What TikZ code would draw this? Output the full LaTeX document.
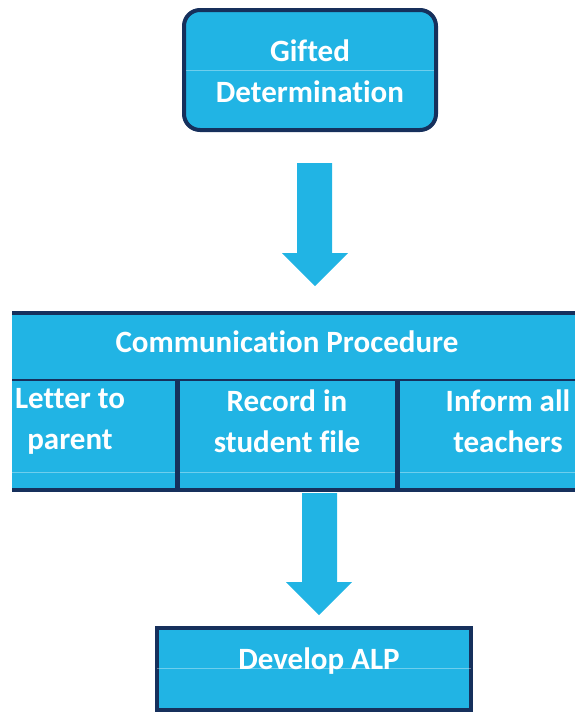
\documentclass[tikz,border=0pt]{standalone}
\usepackage{fontspec}
\setmainfont[Ligatures={NoCommon}]{Carlito}
\definecolor{fillblue}{RGB}{33,180,228}
\definecolor{navy}{RGB}{22,48,92}
\tikzset{
  lbl/.style={text=white, font=\fontsize{31}{41}\selectfont\bfseries, align=center, inner sep=0pt},
  box/.style={draw=navy, line width=4pt, fill=fillblue, inner sep=0pt},
  blockarrow/.style={fill=fillblue, draw=none},
  gloss/.style={draw=white, opacity=0.35, line width=1pt},
  rule/.style={draw=navy, line width=4pt},
  divider/.style={draw=navy, line width=5pt}
}
\begin{document}
\begin{tikzpicture}[x=1pt,y=-1pt]
\useasboundingbox (0,0) rectangle (575,715);

% top box
\node[box, rounded corners=16pt, minimum width=252pt, minimum height=120pt] (giftedbox) at (310,70) {};
\draw[gloss] (186,70) -- (434,70);
\node[lbl] (gifted) at (310,71) {Gifted\\Determination};

% middle block
\begin{scope}
\clip (0,0) rectangle (575,715);
\fill[fillblue] (12,313) rectangle (600,490);
\draw[gloss] (12,472) -- (600,472);
\draw[navy, line width=2pt] (12,380) -- (600,380);
\draw[divider] (177,380) -- (177,490);
\draw[divider] (397,380) -- (397,490);
\draw[rule] (12,313) -- (600,313);
\draw[rule] (12,490) -- (600,490);
\end{scope}
\node[lbl] (comm) at (287,342) {Communication Procedure};
\node[lbl] (letter) at (70,421) {Letter to\\parent};
\node[lbl] (record) at (287,421) {Record in\\student file};
\node[lbl] (inform) at (508,421) {Inform all\\teachers};

% bottom box
\node[box, minimum width=314pt, minimum height=82pt] (alpbox) at (314,669) {};
\draw[gloss] (157,668) -- (471,668);
\node[lbl] (alp) at (319,661) {Develop ALP};

% block arrows
\coordinate (a1top) at (315,163);
\coordinate (a1tip) at (315,286);
\coordinate (a2top) at (319,493);
\coordinate (a2tip) at (319,615);
\fill[blockarrow] (a1top) ++(-18,0) -- ++(35,0) -- ++(0,90) -- ++(16,0)
  -- (a1tip) -- ++(-33,-33) -- ++(15,0) -- cycle;
\fill[blockarrow] (a2top) ++(-17,0) -- ++(35,0) -- ++(0,89) -- ++(15,0)
  -- (a2tip) -- ++(-33,-33) -- ++(16,0) -- cycle;
\end{tikzpicture}
\end{document}
